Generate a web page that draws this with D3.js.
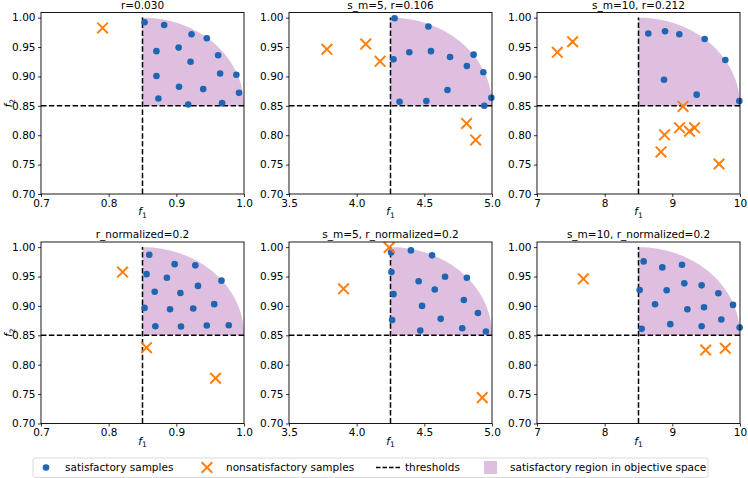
<!DOCTYPE html>
<html>
<head>
<meta charset="utf-8">
<script src="https://cdn.jsdelivr.net/npm/d3@7"></script>
<style>
  body { margin: 0; background: #fff; }
  text { font-family: "DejaVu Sans", sans-serif; }
</style>
</head>
<body>
<div id="chart"></div>
<script>
// panel titles, axis ranges and thresholds
const titles = ["r=0.030", "s_m=5, r=0.106", "s_m=10, r=0.212",
    "r_normalized=0.2", "s_m=5, r_normalized=0.2", "s_m=10, r_normalized=0.2"];
const xDomains = [[0.7, 1.0], [3.5, 5.0], [7, 10]];
const xTicks = [[0.7, 0.8, 0.9, 1.0], [3.5, 4.0, 4.5, 5.0], [7, 8, 9, 10]];
const xThresholds = [0.85, 4.25, 8.5];
const yThreshold = 0.85;
const yTicks = [0.70, 0.75, 0.80, 0.85, 0.90, 0.95, 1.00];

// satisfactory samples [f1, f2]
const sat1 = [[0.853,0.992],[0.882,0.9875],[0.9225,0.9716],[0.945,0.965],[0.8706,0.943],[0.9034,0.949],
    [0.921,0.925],[0.9618,0.936],[0.8706,0.9006],[0.9647,0.905],[0.9887,0.9028],[0.904,0.8824],
    [0.9397,0.8784],[0.8735,0.8625],[0.9176,0.8523],[0.9676,0.8545],[0.9926,0.872]];
const sat2 = [[4.28,0.9989],[4.53,0.985],[4.389,0.941],[4.549,0.943],[4.69,0.933],[4.864,0.937],
    [4.814,0.9176],[4.936,0.907],[4.272,0.929],[4.671,0.877],[4.317,0.857],[4.515,0.858],
    [4.943,0.85],[4.995,0.8636]];
const sat3 = [[8.645,0.973],[8.892,0.9767],[9.103,0.9716],[9.478,0.9636],[9.783,0.928],
    [8.877,0.8943],[9.36,0.869],[9.99,0.858]];
const sat4 = [[0.860,0.987],[0.8975,0.971],[0.928,0.969],[0.856,0.954],[0.886,0.948],[0.932,0.934],
    [0.9667,0.943],[0.868,0.924],[0.906,0.922],[0.853,0.8966],[0.8907,0.8944],[0.925,0.8955],
    [0.956,0.903],[0.869,0.8655],[0.9069,0.865],[0.945,0.8667],[0.9775,0.8672]];
const sat5 = [[4.255,0.991],[4.401,0.9944],[4.557,0.986],[4.257,0.9576],[4.458,0.942],[4.653,0.9497],
    [4.814,0.948],[4.272,0.920],[4.577,0.928],[4.483,0.900],[4.792,0.910],[4.262,0.876],
    [4.621,0.878],[4.896,0.888],[4.47,0.858],[4.78,0.862],[4.955,0.8565]];
const sat6 = [[8.576,0.9757],[8.852,0.9655],[9.143,0.970],[9.177,0.9384],[9.433,0.935],[8.517,0.927],
    [8.916,0.9266],[9.68,0.9215],[8.744,0.9028],[9.222,0.8944],[9.468,0.8977],[9.897,0.9017],
    [8.97,0.869],[9.433,0.8655],[9.724,0.8768],[9.995,0.8633],[8.547,0.861]];

// nonsatisfactory samples [f1, f2]
const non1 = [[0.791,0.9824]];
const non2 = [[3.78,0.946],[4.067,0.955],[4.173,0.9256],[4.812,0.82],[4.879,0.792]];
const non3 = [[7.30,0.941],[7.527,0.959],[9.158,0.849],[8.885,0.8006],[9.106,0.8125],
    [9.254,0.8067],[9.328,0.8125],[8.832,0.7716],[9.69,0.751]];
const non4 = [[0.8206,0.9576],[0.8559,0.829],[0.958,0.777]];
const non5 = [[4.24,0.9994],[3.903,0.929],[4.928,0.744]];
const non6 = [[7.685,0.946],[9.493,0.825],[9.783,0.828]];

const satSets = [sat1, sat2, sat3, sat4, sat5, sat6];
const nonSets = [non1, non2, non3, non4, non5, non6];

const legendLabels = ["satisfactory samples", "nonsatisfactory samples", "thresholds",
    "satisfactory region in objective space"];

const width = 748, height = 478;
const colLeft = [41, 289, 537], axW = 203;
const rowTop = [12.5, 242], axH = 181.5;
const yDomain = [0.7, 1.0087];
const fontSize = 10.5;
const blue = "#1f66b2", orange = "#ff7f0e", regionFill = "#dfbfdf";

const svg = d3.select("#chart").append("svg")
    .attr("width", width)
    .attr("height", height);

function mathLabel(sel, sub) {
    sel.append("tspan").attr("font-style", "italic").text("f");
    sel.append("tspan").attr("font-size", 7.5).attr("dy", 2.5).text(sub);
}

function drawX(g, cx, cy, r) {
    g.append("path")
        .attr("d", `M${cx - r},${cy - r}L${cx + r},${cy + r}M${cx - r},${cy + r}L${cx + r},${cy - r}`)
        .attr("stroke", orange)
        .attr("stroke-width", 2)
        .attr("fill", "none");
}

function renderPanel(i) {
    const col = i % 3, row = Math.floor(i / 3);
    const x0 = colLeft[col], y0 = rowTop[row];

    const x = d3.scaleLinear().domain(xDomains[col]).range([0, axW]);
    const y = d3.scaleLinear().domain(yDomain).range([axH, 0]);

    const g = svg.append("g").attr("transform", `translate(${x0},${y0})`);

    // satisfactory region: quarter ellipse above both thresholds
    const xt = xThresholds[col], xMax = xDomains[col][1];
    const angles = d3.range(0, 91, 1).map(a => a * Math.PI / 180);
    const pts = [[xt, yThreshold]].concat(angles.map(a => [
        xt + (xMax - xt) * Math.cos(a),
        yThreshold + (1 - yThreshold) * Math.sin(a)
    ]));
    g.append("path")
        .attr("d", d3.line().x(d => x(d[0])).y(d => y(d[1]))(pts) + "Z")
        .attr("fill", regionFill);

    // thresholds
    g.append("line")
        .attr("x1", x(xt)).attr("x2", x(xt))
        .attr("y1", y(0.7)).attr("y2", y(1.0))
        .attr("stroke", "#000").attr("stroke-width", 1.5)
        .attr("stroke-dasharray", "5.5,2.4");
    g.append("line")
        .attr("x1", x(xDomains[col][0])).attr("x2", x(xMax))
        .attr("y1", y(yThreshold)).attr("y2", y(yThreshold))
        .attr("stroke", "#000").attr("stroke-width", 1.5)
        .attr("stroke-dasharray", "5.5,2.4");

    g.selectAll(".sat")
        .data(satSets[i])
        .enter().append("circle")
        .attr("class", "sat")
        .attr("cx", d => x(d[0]))
        .attr("cy", d => y(d[1]))
        .attr("r", 3.3)
        .attr("fill", blue);

    nonSets[i].forEach(d => drawX(g, x(d[0]), y(d[1]), 5.3));

    // axes
    const fmtX = col === 2 ? d3.format("d") : d3.format(".1f");
    const xAxis = g.append("g")
        .attr("transform", `translate(0,${axH})`)
        .call(d3.axisBottom(x).tickValues(xTicks[col]).tickFormat(fmtX).tickSize(3).tickPadding(2.5));
    const yAxis = g.append("g")
        .call(d3.axisLeft(y).tickValues(yTicks).tickFormat(d3.format(".2f")).tickSize(3).tickPadding(2.5));
    [xAxis, yAxis].forEach(a => {
        a.select(".domain").remove();
        a.selectAll("text").attr("font-size", fontSize).attr("font-family", "DejaVu Sans").attr("fill", "#000");
        a.selectAll("line").attr("stroke", "#000").attr("stroke-width", 0.8);
    });

    g.append("rect")
        .attr("width", axW).attr("height", axH)
        .attr("fill", "none").attr("stroke", "#000").attr("stroke-width", 0.9);

    g.append("text")
        .attr("x", axW / 2).attr("y", -4)
        .attr("text-anchor", "middle")
        .attr("font-size", fontSize)
        .text(titles[i]);

    g.append("text")
        .attr("x", axW / 2).attr("y", axH + 21)
        .attr("text-anchor", "middle")
        .attr("font-size", fontSize)
        .call(mathLabel, "1");

    if (col === 0) {
        g.append("text")
            .attr("transform", `translate(${-29},${axH / 2}) rotate(-90)`)
            .attr("text-anchor", "middle")
            .attr("font-size", fontSize)
            .call(mathLabel, "2");
    }
}

function renderLegend() {
    const g = svg.append("g");
    const cy = 467.5;
    g.append("rect")
        .attr("x", 33).attr("y", 458).attr("width", 675).attr("height", 19.5)
        .attr("rx", 2)
        .attr("fill", "#fff").attr("stroke", "#d0d0d0").attr("stroke-width", 0.8);

    g.append("circle").attr("cx", 46).attr("cy", cy).attr("r", 3.3).attr("fill", blue);
    drawX(g, 207, cy, 5.3);
    g.append("line")
        .attr("x1", 376).attr("x2", 400).attr("y1", cy).attr("y2", cy)
        .attr("stroke", "#000").attr("stroke-width", 1.5).attr("stroke-dasharray", "4.5,2");
    g.append("rect").attr("x", 484).attr("y", cy - 6.5).attr("width", 13).attr("height", 13)
        .attr("fill", regionFill);

    const textX = [65, 226, 405, 510];
    legendLabels.forEach((t, k) => {
        g.append("text")
            .attr("x", textX[k]).attr("y", cy).attr("dy", "0.36em")
            .attr("font-size", fontSize)
            .text(t);
    });
}

d3.range(6).forEach(renderPanel);
renderLegend();
</script>
</body>
</html>
